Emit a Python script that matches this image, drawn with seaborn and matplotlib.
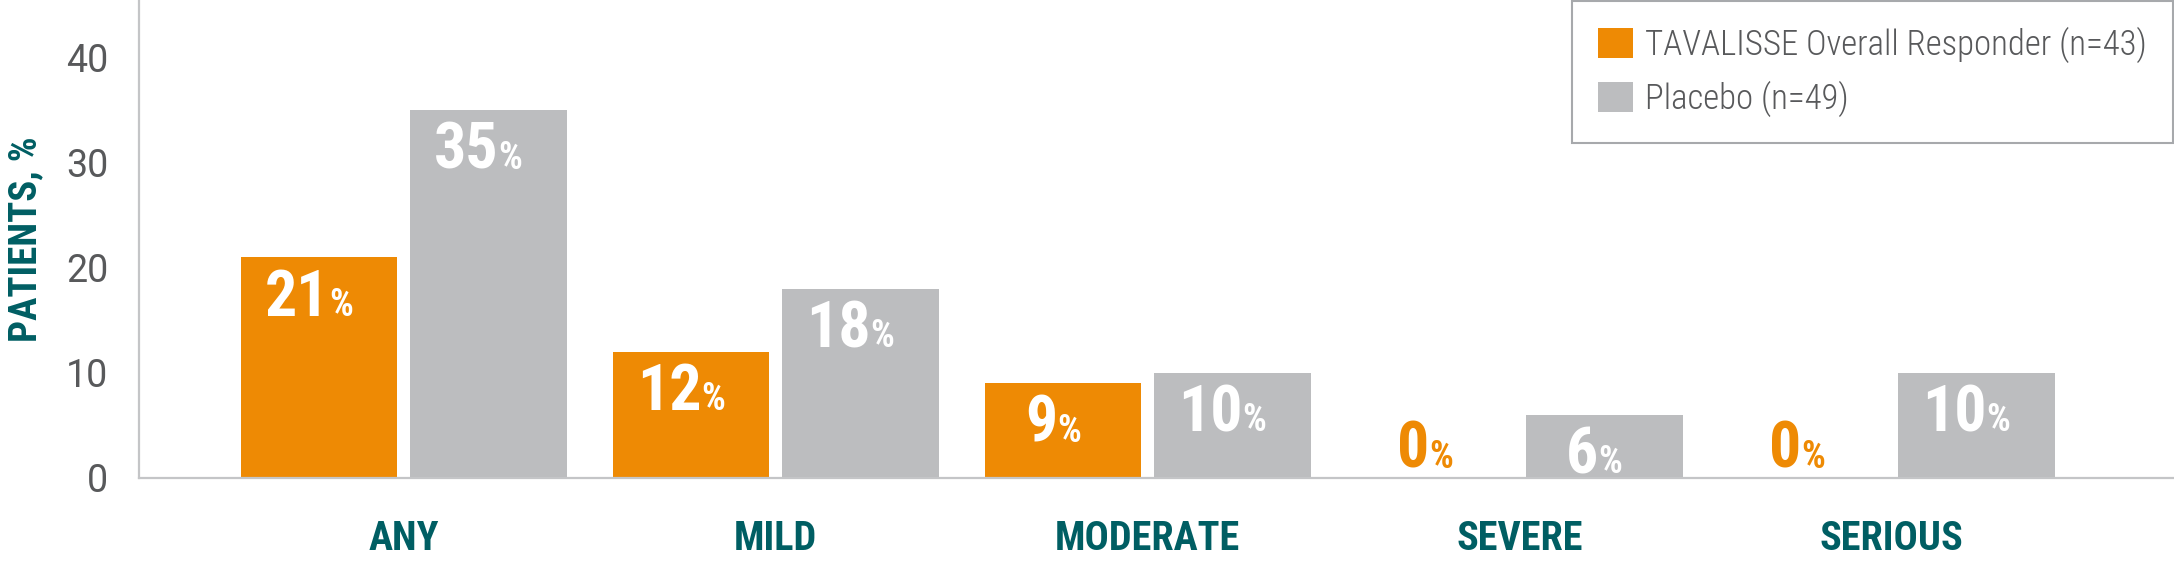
import pandas as pd
import matplotlib
matplotlib.use("Agg")
import matplotlib.pyplot as plt
import seaborn as sns
from matplotlib import font_manager

# --- chart data ---
categories = ["ANY", "MILD", "MODERATE", "SEVERE", "SERIOUS"]
tavalisse_pct = [21, 12, 9, 0, 0]
placebo_pct = [35, 18, 10, 6, 10]
group_labels = ["TAVALISSE Overall Responder (n=43)", "Placebo (n=49)"]
y_ticks = [0, 10, 20, 30, 40]

ORANGE = "#EE8A04"
GREY = "#BCBDBF"
TEAL = "#005E63"
TEXT_GREY = "#58595B"
LINE_GREY = "#C4C5C7"

sns.set_theme(style="white")

installed = {f.name for f in font_manager.fontManager.ttflist}


def pick(*names):
    for n in names:
        if n in installed:
            return n
    return "DejaVu Sans"


cond = pick("Roboto Condensed", "Liberation Sans Narrow", "Open Sans Condensed", "Roboto", "Liberation Sans")
light = pick("Roboto", "Lato", "Open Sans")
plt.rcParams["font.family"] = [light, "DejaVu Sans"]

df = pd.DataFrame({
    "category": categories * 2,
    "group": [group_labels[0]] * len(categories) + [group_labels[1]] * len(categories),
    "pct": tavalisse_pct + placebo_pct,
})

fig = plt.figure(figsize=(21.74, 5.63), dpi=100)
ax = fig.add_axes([139 / 2174, 1 - 478 / 563, 1 - 139 / 2174, 478 / 563])

sns.barplot(data=df, x="category", y="pct", hue="group", order=categories,
            hue_order=group_labels, palette=[ORANGE, GREY], width=0.91, gap=0.075,
            saturation=1, linewidth=0, errorbar=None, ax=ax)

ax.set_xlim(-0.712, 4.759)
ax.set_ylim(0, 45.5)
ax.set_yticks(y_ticks)
ax.set_xlabel("")
ax.set_ylabel("PATIENTS, %", family=cond, fontweight="bold", fontsize=28,
              color=TEAL, va="center")
ax.yaxis.set_label_coords(-(139 - 26) / 2035, 0.5)

sns.despine(ax=ax)
for side in ("left", "bottom"):
    ax.spines[side].set_color(LINE_GREY)
    ax.spines[side].set_linewidth(1.6)

ax.tick_params(axis="y", length=13, width=1, color=LINE_GREY, pad=9,
               labelsize=27, labelcolor=TEXT_GREY)
ax.tick_params(axis="x", length=0, pad=30, labelsize=29, labelcolor=TEAL)
for lbl in ax.get_xticklabels():
    lbl.set_family(cond)
    lbl.set_fontweight("bold")

# value labels: big number + small percent sign
num_size, pct_size = 46, 27
cap_px = 0.711 * num_size * 100 / 72
for container, values, colour in zip(ax.containers, [tavalisse_pct, placebo_pct], [ORANGE, GREY]):
    for bar, v in zip(container, values):
        xc = bar.get_x() + bar.get_width() / 2
        if v > 0:
            y_off = -(13 + cap_px) * 72 / 100
            txt_col = "white"
        else:
            y_off = 10 * 72 / 100
            txt_col = colour
        num = ax.annotate(f"{v}", xy=(xc, v), xytext=(-16, y_off), textcoords="offset points",
                          ha="center", va="baseline", family=cond, fontweight="bold",
                          fontsize=num_size, color=txt_col)
        ax.annotate("%", xy=(1, v), xycoords=(num, "data"), xytext=(0, y_off),
                    textcoords="offset points", ha="left", va="baseline", family=cond,
                    fontweight="bold", fontsize=pct_size, color=txt_col)

handles, labels = ax.get_legend_handles_labels()
leg = ax.legend(handles, labels, loc="upper right", bbox_to_anchor=(2173 / 2174, 1 - 1 / 563),
                bbox_transform=fig.transFigure, frameon=True, fancybox=False,
                edgecolor="#A7A9AC", framealpha=1, borderaxespad=0, borderpad=0.75,
                handlelength=1.0, handleheight=0.95, handletextpad=0.36, labelspacing=0.5,
                labelcolor=TEXT_GREY, prop={"family": cond, "weight": "light", "size": 25})
leg.get_frame().set_linewidth(1.5)

fig.savefig("out.png", dpi=100)
